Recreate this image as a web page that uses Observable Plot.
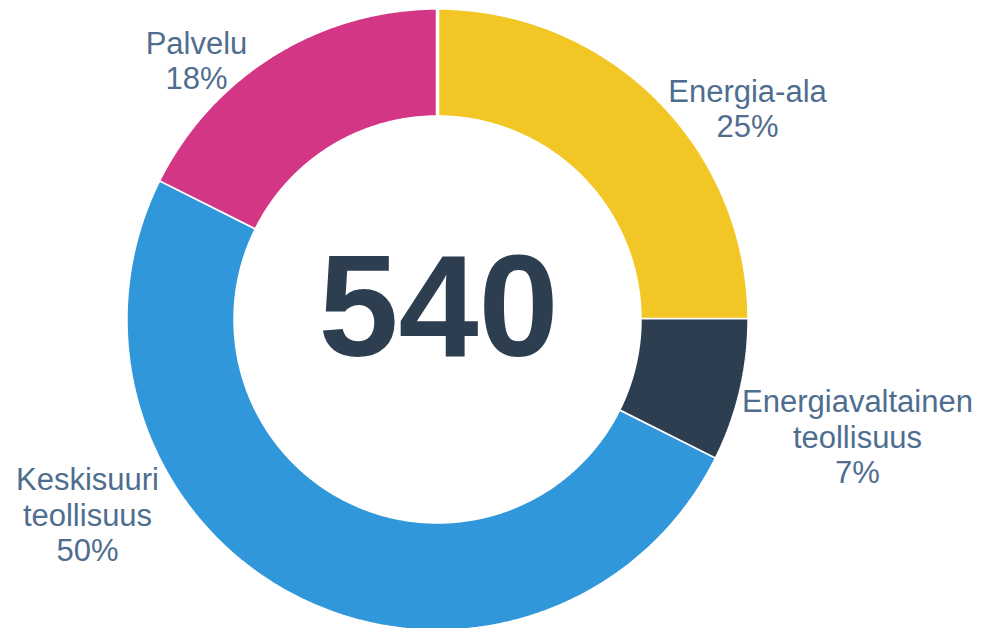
<!DOCTYPE html>
<html>
<head>
<meta charset="utf-8">
<script src="https://cdn.jsdelivr.net/npm/d3@7"></script>
<script src="https://cdn.jsdelivr.net/npm/@observablehq/plot@0.6"></script>
<style>
  html, body { margin: 0; padding: 0; background: #ffffff; }
  #chart { width: 982px; height: 628px; overflow: hidden; }
  svg { font-family: "Liberation Sans", Arial, sans-serif; }
</style>
</head>
<body>
<div id="chart"></div>
<script>
// ---- data ----
const categories = ["Energia-ala", "Energiavaltainen teollisuus", "Keskisuuri teollisuus", "Palvelu"];
const counts = [135, 40, 270, 95];          // slice values (sum 540)
const colors = ["#F2C625", "#2D3E50", "#3097DB", "#D33684"];

// ---- layout constants ----
const W = 982, H = 628;
const CX = 437, CY = 319;                  // donut centre in pixels
const R_OUT = 311.5, R_IN = 202.5;
const labelOffsets = [[310, -211.5], [420, 117], [-350, 195], [-241, -259.5]];

// build ring-sector polygons from cumulative values
const total = d3.sum(counts);
const cum = d3.cumsum(counts);
const polys = [];
categories.forEach((c, i) => {
  const a0 = ((cum[i] - counts[i]) / total) * 2 * Math.PI;
  const a1 = (cum[i] / total) * 2 * Math.PI;
  const n = Math.max(2, Math.ceil((a1 - a0) / (Math.PI / 360)));
  for (let k = 0; k <= n; k++) {
    const a = a0 + (a1 - a0) * k / n;
    polys.push({cat: c, x: R_OUT * Math.sin(a), y: -R_OUT * Math.cos(a)});
  }
  for (let k = n; k >= 0; k--) {
    const a = a0 + (a1 - a0) * k / n;
    polys.push({cat: c, x: R_IN * Math.sin(a), y: -R_IN * Math.cos(a)});
  }
});

const labels = categories.map((c, i) => ({
  text: c.replace(" ", "\n") + "\n" + Math.round(counts[i] / total * 100) + "%",
  x: labelOffsets[i][0],
  y: labelOffsets[i][1]
}));

const chart = Plot.plot({
  width: W,
  height: H,
  margin: 0,
  x: {domain: [-CX, W - CX], range: [0, W], axis: null},
  y: {domain: [-CY, H - CY], range: [0, H], axis: null},
  color: {domain: categories, range: colors},
  style: {background: "white", fontFamily: "'Liberation Sans', Arial, sans-serif"},
  marks: [
    Plot.line(polys, {
      x: "x", y: "y", z: "cat", fill: "cat",
      stroke: "white", strokeWidth: 3.5, strokeLinejoin: "miter", curve: "linear"
    }),
    Plot.text([total], {
      x: () => 1, y: () => -10, text: d => String(d),
      fontSize: 144, fontWeight: "bold", fill: "#2D3E50"
    }),
    Plot.text(labels, {
      x: "x", y: "y", text: "text",
      fontSize: 31, lineHeight: 1.14, fill: "#4F6E8F"
    })
  ]
});
document.getElementById("chart").appendChild(chart);
</script>
</body>
</html>
